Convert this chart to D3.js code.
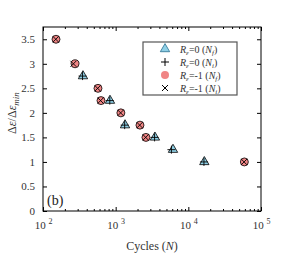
<!DOCTYPE html>
<html>
<head>
<meta charset="utf-8">
<script src="https://cdn.jsdelivr.net/npm/d3@7"></script>
<style>
  body { margin: 0; background: #fff; }
  svg { font-family: "Liberation Serif", "DejaVu Serif", serif; }
</style>
</head>
<body>
<div id="chart"></div>
<script>
// strain amplitude ratio vs cycles, two strain ratios, Nf and Ni

const r0Nf = [355, 835, 1345, 3470, 6150, 16600];
const r0Ni = [350, 830, 1330, 3430, 5850, 16400];
const r0Ratio = [2.75, 2.25, 1.75, 1.5, 1.25, 1.0];

const rm1Nf = [151, 276, 571, 628, 1180, 2160, 2610, 59000];
const rm1Ni = [150, 262, 565, 620, 1170, 2140, 2590, 58500];
const rm1Ratio = [3.5, 3.0, 2.5, 2.25, 2.0, 1.75, 1.5, 1.0];

const yTicks = [0, 0.5, 1, 1.5, 2, 2.5, 3, 3.5];
const xMajor = [1e2, 1e3, 1e4, 1e5];
const xExp = [2, 3, 4, 5];

const legendItems = [
    { kind: "tri", eq: "=0", n: "f" },
    { kind: "plus", eq: "=0", n: "i" },
    { kind: "circ", eq: "=-1", n: "f" },
    { kind: "cross", eq: "=-1", n: "i" }
];

const width = 289, height = 260;
const margin = ({ top: 27, right: 28, bottom: 49, left: 43 });
const w = width - margin.left - margin.right,
    h = height - margin.top - margin.bottom;

let svg = d3.select("#chart").append("svg")
    .attr("width", width)
    .attr("height", height);

const xScale = d3.scaleLog()
    .domain([1e2, 1e5])
    .range([margin.left, margin.left + w]);

const yScale = d3.scaleLinear()
    .domain([0, 3.75])
    .range([margin.top + h, margin.top]);

let xMinor = [];
[1e2, 1e3, 1e4].forEach(d => { for (let k = 2; k < 10; k++) xMinor.push(d * k); });

// d3 axis puts sans-serif on its group, take it off
const serif = g => g.attr("font-family", null).select(".domain").remove();

// minor ticks bottom and top
svg.append("g")
    .attr("transform", `translate(0, ${margin.top + h})`)
    .call(d3.axisBottom(xScale).tickValues(xMinor).tickSizeInner(-2).tickSizeOuter(0).tickFormat(""))
    .call(serif);
svg.append("g")
    .attr("transform", `translate(0, ${margin.top})`)
    .call(d3.axisTop(xScale).tickValues(xMinor).tickSizeInner(-2).tickSizeOuter(0).tickFormat(""))
    .call(serif);

// major x ticks with 10^n labels
svg.append("g")
    .attr("transform", `translate(0, ${margin.top + h})`)
    .call(d3.axisBottom(xScale).tickValues(xMajor).tickSizeInner(-4).tickSizeOuter(0).tickPadding(10))
    .call(serif)
    .call(g => g.selectAll(".tick text").each(function (d, i) {
        const t = d3.select(this).text("").attr("font-size", 11).attr("fill", "#333");
        t.append("tspan").text("10 ");
        t.append("tspan").attr("dy", -5).attr("font-size", 8).text(xExp[i]);
    }));
svg.append("g")
    .attr("transform", `translate(0, ${margin.top})`)
    .call(d3.axisTop(xScale).tickValues(xMajor).tickSizeInner(-4).tickSizeOuter(0).tickFormat(""))
    .call(serif);

// y ticks left and right
svg.append("g")
    .attr("transform", `translate(${margin.left}, 0)`)
    .call(d3.axisLeft(yScale).tickValues(yTicks).tickSizeInner(-4).tickSizeOuter(0).tickPadding(8).tickFormat(d3.format("")))
    .call(serif)
    .call(g => g.selectAll(".tick text").attr("font-size", 11).attr("fill", "#333"));
svg.append("g")
    .attr("transform", `translate(${margin.left + w}, 0)`)
    .call(d3.axisRight(yScale).tickValues(yTicks).tickSizeInner(-4).tickSizeOuter(0).tickFormat(""))
    .call(serif);

// frame
svg.append("rect")
    .attr("x", margin.left)
    .attr("y", margin.top)
    .attr("width", w)
    .attr("height", h)
    .attr("fill", "none")
    .attr("stroke", "#000")
    .attr("stroke-width", 1);

// markers
const tri = d3.symbol().type(d3.symbolTriangle).size(38);
const plot = svg.append("g");

plot.selectAll(".tri")
    .data(r0Nf)
    .join("path")
    .attr("d", tri)
    .attr("transform", (d, i) => `translate(${xScale(d)}, ${yScale(r0Ratio[i])})`)
    .attr("fill", "#8fd0e6")
    .attr("stroke", "#000")
    .attr("stroke-width", 0.8);

plot.selectAll(".plus")
    .data(r0Ni)
    .join("path")
    .attr("d", "M-4,0H4M0,-4V4")
    .attr("transform", (d, i) => `translate(${xScale(d)}, ${yScale(r0Ratio[i])})`)
    .attr("stroke", "#000")
    .attr("stroke-width", 0.9);

plot.selectAll(".circ")
    .data(rm1Nf)
    .join("circle")
    .attr("cx", d => xScale(d))
    .attr("cy", (d, i) => yScale(rm1Ratio[i]))
    .attr("r", 4)
    .attr("fill", "#f08585")
    .attr("stroke", "#000")
    .attr("stroke-width", 0.8);

plot.selectAll(".cross")
    .data(rm1Ni)
    .join("path")
    .attr("d", "M-3,-3L3,3M-3,3L3,-3")
    .attr("transform", (d, i) => `translate(${xScale(d)}, ${yScale(rm1Ratio[i])})`)
    .attr("stroke", "#000")
    .attr("stroke-width", 0.9);

// legend
const lg = svg.append("g").attr("transform", "translate(143, 42)");
lg.append("rect")
    .attr("width", 94)
    .attr("height", 53)
    .attr("fill", "#fff")
    .attr("stroke", "#555")
    .attr("stroke-width", 1.2);

legendItems.forEach((d, i) => {
    const yy = 7 + i * 13;
    const mk = lg.append("g").attr("transform", `translate(22, ${yy})`);
    if (d.kind === "tri") mk.append("path").attr("d", tri).attr("fill", "#8fd0e6").attr("stroke", "#2a6f8f").attr("stroke-width", 0.8);
    if (d.kind === "plus") mk.append("path").attr("d", "M-4,0H4M0,-4V4").attr("stroke", "#000").attr("stroke-width", 1);
    if (d.kind === "circ") mk.append("circle").attr("r", 4).attr("fill", "#f08585");
    if (d.kind === "cross") mk.append("path").attr("d", "M-3,-3L3,3M-3,3L3,-3").attr("stroke", "#000").attr("stroke-width", 1);

    const t = lg.append("text")
        .attr("x", 37)
        .attr("y", yy + 3.5)
        .attr("font-size", 10)
        .attr("fill", "#333");
    t.append("tspan").attr("font-style", "italic").text("R");
    t.append("tspan").attr("font-style", "italic").attr("font-size", 7).attr("dy", 2).text("ε");
    t.append("tspan").attr("dy", -2).text(d.eq + " (");
    t.append("tspan").attr("font-style", "italic").text("N");
    t.append("tspan").attr("font-style", "italic").attr("font-size", 7).attr("dy", 2).text(d.n);
    t.append("tspan").attr("dy", -2).text(")");
});

// labels
svg.append("text")
    .attr("x", 47)
    .attr("y", 205)
    .attr("font-size", 14)
    .attr("fill", "#222")
    .text("(b)");

const xl = svg.append("text")
    .attr("x", 152)
    .attr("y", 250)
    .attr("text-anchor", "middle")
    .attr("font-size", 12)
    .attr("fill", "#333");
xl.append("tspan").text("Cycles (");
xl.append("tspan").attr("font-style", "italic").text("N");
xl.append("tspan").text(")");

const yl = svg.append("text")
    .attr("transform", "translate(16, 113) rotate(-90)")
    .attr("text-anchor", "middle")
    .attr("font-size", 12)
    .attr("fill", "#333");
yl.append("tspan").text("Δ");
yl.append("tspan").attr("font-style", "italic").text("ε");
yl.append("tspan").text("/Δ");
yl.append("tspan").attr("font-style", "italic").text("ε");
yl.append("tspan").attr("font-style", "italic").attr("font-size", 9).attr("dy", 3).text("min");
</script>
</body>
</html>
